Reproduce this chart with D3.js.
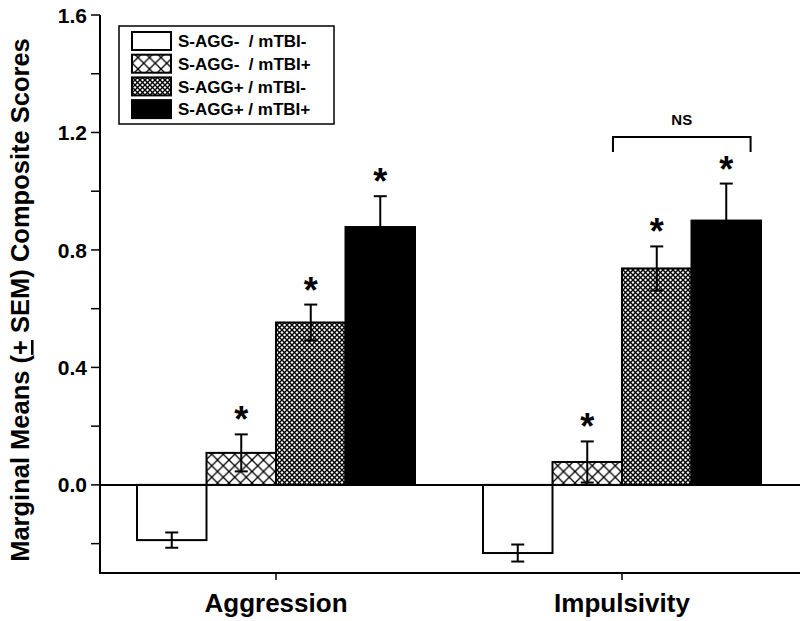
<!DOCTYPE html>
<html>
<head>
<meta charset="utf-8">
<script src="https://cdn.jsdelivr.net/npm/d3@7"></script>
<style>
  html, body { margin: 0; padding: 0; background: #fff; }
  text { font-family: "Liberation Sans", Arial, sans-serif; font-weight: bold; fill: #000; }
</style>
</head>
<body>
<svg id="chart" width="800" height="621"></svg>
<script>
// ---- data ----
const categories = ["Aggression", "Impulsivity"];
const groups = ["S-AGG-  / mTBI-", "S-AGG-  / mTBI+", "S-AGG+ / mTBI-", "S-AGG+ / mTBI+"];
const aggressionMeans = [-0.188, 0.109, 0.553, 0.878];
const aggressionSEM   = [0.026, 0.063, 0.061, 0.105];
const impulsivityMeans = [-0.232, 0.078, 0.737, 0.900];
const impulsivitySEM   = [0.029, 0.070, 0.075, 0.126];
const aggressionSig  = [false, true, true, true];
const impulsivitySig = [false, true, true, true];
const yMajorTicks = [0.0, 0.4, 0.8, 1.2, 1.6];
const yMinorTicks = [-0.2, 0.2, 0.6, 1.0, 1.4];
const yLabel = "Marginal Means (";
const yLabelPm = "+";
const yLabelEnd = " SEM) Composite Scores";
const nsLabel = "NS";

const means = [aggressionMeans, impulsivityMeans];
const sems = [aggressionSEM, impulsivitySEM];
const sigs = [aggressionSig, impulsivitySig];

const svg = d3.select("#chart");
const defs = svg.append("defs");

// patterns
const p1 = defs.append("pattern").attr("id", "xhatch").attr("patternUnits", "userSpaceOnUse")
  .attr("width", 11.5).attr("height", 11.5);
p1.append("rect").attr("width", 11.5).attr("height", 11.5).attr("fill", "#fff");
p1.append("path").attr("d", "M0,0 L11.5,11.5 M11.5,0 L0,11.5 M-1,1 L1,-1 M10.5,12.5 L12.5,10.5")
  .attr("stroke", "#000").attr("stroke-width", 1.3);

const p2 = defs.append("pattern").attr("id", "dense").attr("patternUnits", "userSpaceOnUse")
  .attr("width", 5).attr("height", 5);
p2.append("rect").attr("width", 5).attr("height", 5).attr("fill", "#fff");
p2.append("path").attr("d", "M0,0 L5,5 M5,0 L0,5")
  .attr("stroke", "#000").attr("stroke-width", 1.4);

const fills = ["#fff", "url(#xhatch)", "url(#dense)", "#000"];

// scales
const xLeft = 100, xRight = 800, yTop = 15, yBottom = 573;
const x = d3.scaleBand().domain(categories).range([103, 795]).padding(0);
const groupWidth = 278;
const xs = d3.scaleBand().domain(d3.range(groups.length)).range([0, groupWidth]).padding(0);
const y = d3.scaleLinear().domain([-0.3, 1.6]).range([yBottom, yTop]);

const g = svg.append("g");

// bars
categories.forEach((cat, ci) => {
  const gx = x(cat) + x.bandwidth() / 2 - groupWidth / 2;
  const cg = g.append("g").attr("transform", `translate(${gx},0)`);
  groups.forEach((grp, gi) => {
    const v = means[ci][gi];
    cg.append("rect")
      .attr("x", xs(gi))
      .attr("y", y(Math.max(0, v)))
      .attr("width", xs.bandwidth())
      .attr("height", Math.abs(y(v) - y(0)))
      .attr("fill", fills[gi])
      .attr("stroke", "#000")
      .attr("stroke-width", 2);
  });
  // error bars
  groups.forEach((grp, gi) => {
    const v = means[ci][gi], e = sems[ci][gi];
    const cx = xs(gi) + xs.bandwidth() / 2;
    cg.append("line").attr("x1", cx).attr("x2", cx).attr("y1", y(v - e)).attr("y2", y(v + e))
      .attr("stroke", "#000").attr("stroke-width", 2);
    [v - e, v + e].forEach(t => {
      cg.append("line").attr("x1", cx - 6.5).attr("x2", cx + 6.5).attr("y1", y(t)).attr("y2", y(t))
        .attr("stroke", "#000").attr("stroke-width", 2);
    });
    if (sigs[ci][gi]) {
      cg.append("text").attr("x", cx).attr("y", y(v + e) - 2)
        .attr("text-anchor", "middle").attr("font-size", 36).text("*");
    }
  });
});

// zero line
g.append("line").attr("x1", xLeft).attr("x2", xRight).attr("y1", y(0)).attr("y2", y(0))
  .attr("stroke", "#000").attr("stroke-width", 2);

// y axis
g.append("line").attr("x1", xLeft).attr("x2", xLeft).attr("y1", yTop).attr("y2", yBottom + 1)
  .attr("stroke", "#000").attr("stroke-width", 2);
yMajorTicks.concat(yMinorTicks).forEach(t => {
  g.append("line").attr("x1", xLeft - 9).attr("x2", xLeft).attr("y1", y(t)).attr("y2", y(t))
    .attr("stroke", "#000").attr("stroke-width", 1.5);
});
yMajorTicks.forEach(t => {
  g.append("text").attr("x", 87).attr("y", y(t)).attr("dy", "0.36em")
    .attr("text-anchor", "end").attr("font-size", 21).text(d3.format(".1f")(t));
});

// x axis
g.append("line").attr("x1", xLeft - 1).attr("x2", xRight).attr("y1", yBottom).attr("y2", yBottom)
  .attr("stroke", "#000").attr("stroke-width", 2);
categories.forEach(cat => {
  const cx = x(cat) + x.bandwidth() / 2;
  g.append("line").attr("x1", cx).attr("x2", cx).attr("y1", yBottom).attr("y2", yBottom + 7)
    .attr("stroke", "#000").attr("stroke-width", 1.5);
  g.append("text").attr("x", cx).attr("y", 612).attr("text-anchor", "middle")
    .attr("font-size", 26).text(cat);
});

// y label
const yl = g.append("text").attr("transform", "translate(29,300) rotate(-90)")
  .attr("text-anchor", "middle").attr("font-size", 25.5);
yl.append("tspan").text(yLabel);
yl.append("tspan").attr("text-decoration", "underline").text(yLabelPm);
yl.append("tspan").text(yLabelEnd);

// NS bracket (Impulsivity: groups 2 and 3)
{
  const gx = x(categories[1]) + x.bandwidth() / 2 - groupWidth / 2;
  const x1 = gx + xs(1) + xs.bandwidth() * 0.87;
  const x2 = gx + xs(3) + xs.bandwidth() * 0.85;
  g.append("path").attr("d", `M${x1},152 L${x1},137 L${x2},137 L${x2},152`)
    .attr("fill", "none").attr("stroke", "#000").attr("stroke-width", 2);
  g.append("text").attr("x", (x1 + x2) / 2).attr("y", 125).attr("text-anchor", "middle")
    .attr("font-size", 15).text(nsLabel);
}

// legend
const lg = g.append("g");
lg.append("rect").attr("x", 119).attr("y", 26).attr("width", 215).attr("height", 98)
  .attr("fill", "#fff").attr("stroke", "#000").attr("stroke-width", 1.5);
groups.forEach((grp, gi) => {
  const ry = 32 + gi * 22.7;
  lg.append("rect").attr("x", 132).attr("y", ry).attr("width", 39).attr("height", 18)
    .attr("fill", fills[gi]).attr("stroke", "#000").attr("stroke-width", 2);
  lg.append("text").attr("x", 178).attr("y", ry + 9).attr("dy", "0.36em")
    .attr("font-size", 17).style("white-space", "pre").text(grp);
});
</script>
</body>
</html>
